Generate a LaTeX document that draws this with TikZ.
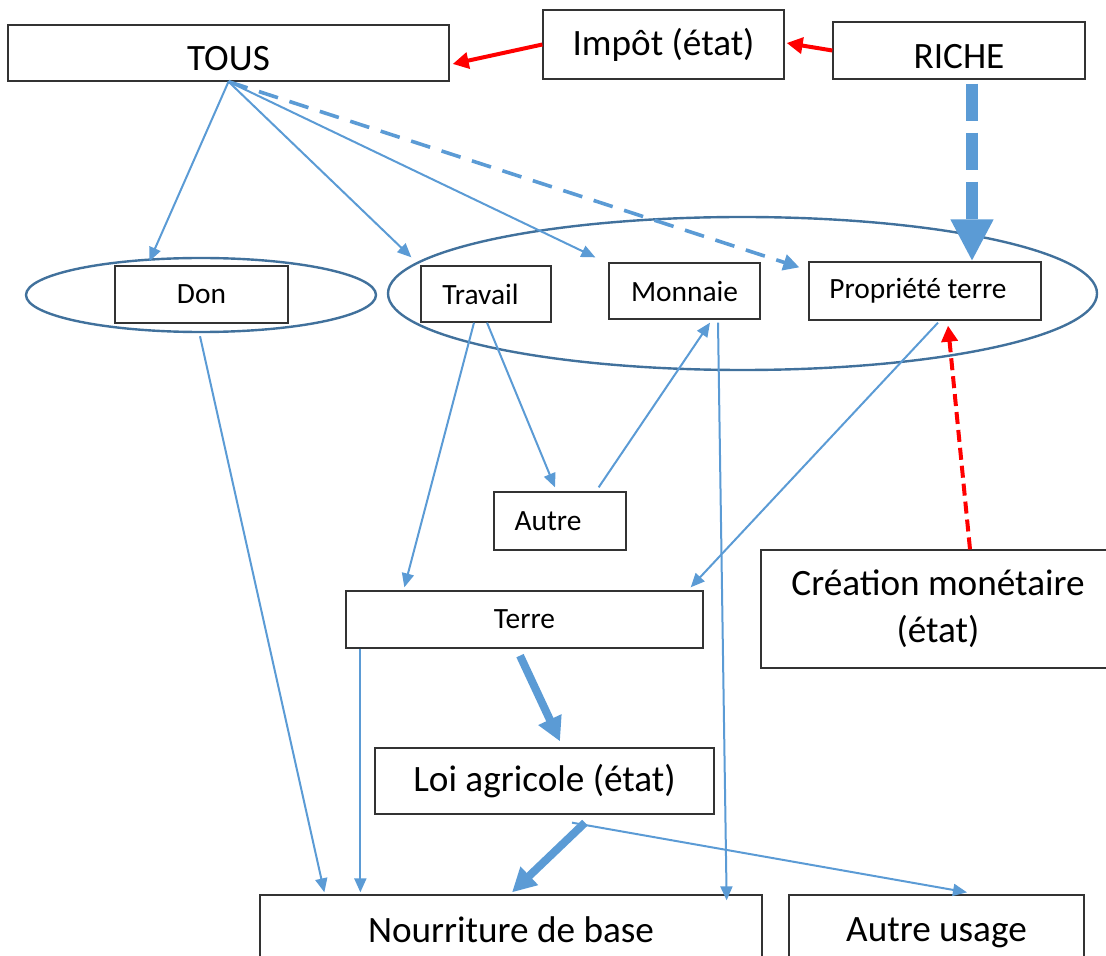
\documentclass[tikz,border=0pt]{standalone}
\usepackage{fontspec}
\setmainfont{Carlito}
\usetikzlibrary{arrows.meta,shapes.geometric,calc}

\definecolor{flowblue}{HTML}{5B9BD5}
\definecolor{ringblue}{HTML}{41719C}
\definecolor{taxred}{HTML}{FF0000}

\begin{document}
\begin{tikzpicture}[x=0.5pt,y=-0.5pt,
        box node/.style={rectangle,draw=black!80,line width=0.65pt,fill=white,inner sep=0pt},
        big node/.style={box node,font=\fontsize{18.6}{23.5}\selectfont,align=center},
        small node/.style={box node,font=\fontsize{14.7}{17}\selectfont},
        low text/.style={text height=18pt,text depth=0pt},
        ring/.style={ellipse,draw=ringblue,line width=1.2pt,inner sep=0pt},
        flow/.style={draw=flowblue,line width=1pt,-{Triangle[width=6pt,length=7pt]}},
        dashed flow/.style={draw=flowblue,line width=1.8pt,dash pattern=on 10pt off 6pt,-{Triangle[width=8pt,length=8pt]}},
        heavy flow/.style={draw=flowblue,line width=4pt,-{Triangle[width=12pt,length=12pt]}},
        rich flow/.style={draw=flowblue,line width=6pt,dash pattern=on 18.5pt off 6pt,-{Triangle[width=20pt,length=21pt]}},
        tax flow/.style={draw=taxred,line width=2pt,-{Triangle[width=8pt,length=8pt]}},
        money flow/.style={draw=taxred,line width=2pt,dash pattern=on 6pt off 3pt,-{Triangle[width=8pt,length=8pt]}}]
        \useasboundingbox (0,0) rectangle (1106,956);
        \clip (0,0) rectangle (1106,956);

        % groupes
        \node[ring, minimum width=175pt, minimum height=37pt] at (201, 295) (elDon) {};
        \node[ring, minimum width=354.5pt, minimum height=76.5pt] at (742.5, 293.5) (elMain) {};

        % boites
        \node[big node, low text, minimum width=220.5pt, minimum height=28pt] at (228.5, 53) (tous) {TOUS};
        \node[big node, minimum width=120.5pt, minimum height=34.5pt] at (663.5, 44.5) (impot) {Impôt (état)};
        \node[big node, low text, minimum width=126pt, minimum height=28.5pt] at (959, 50.5) (riche) {RICHE};
        \node[small node, minimum width=86.5pt, minimum height=28.5pt] at (201.5, 294.5) (don) {Don};
        \node[small node, minimum width=65pt, minimum height=28pt] at (486, 294) (travail) {Travail\hspace*{5.5pt}};
        \node[small node, minimum width=75.5pt, minimum height=28pt] at (684.5, 291) (monnaie) {Monnaie};
        \node[small node, minimum width=116pt, minimum height=29pt] at (925, 291) (propriete) {Propriété terre\hspace*{7pt}};
        \node[small node, minimum width=66pt, minimum height=29pt] at (560, 521) (autre) {Autre\hspace*{12pt}};
        \node[small node, minimum width=178.5pt, minimum height=28.5pt] at (524.5, 619.5) (terre) {Terre};
        \node[big node, minimum width=177pt, minimum height=59pt] at (938, 609) (creation) {Création monétaire\\(état)};
        \node[big node, minimum width=169.5pt, minimum height=33pt] at (544.5, 781) (loi) {Loi agricole (état)};
        \node[big node, minimum width=251pt, minimum height=35pt] at (511, 930) (nourriture) {Nourriture de base};
        \node[big node, text depth=0pt, minimum width=147.5pt, minimum height=35pt] at (936.5, 930) (autreUsage) {Autre usage};

        % fleches
        \path
            (impot.west) edge[tax flow] ($(tous.east)+(3,11)$)
            (riche.west) edge[tax flow] ($(impot.east)+(2,-1.5)$)
            ($(riche.south)+(13,4)$) edge[rich flow] ($(propriete.north)+(47,0)$)
            (tous.south) edge[flow] ($(don.north west)+(35,-4)$)
            (tous.south) edge[flow] ($(travail.north west)+(-9,-8)$)
            (tous.south) edge[flow] ($(monnaie.north west)+(-13,-5)$)
            (tous.south) edge[dashed flow] ($(propriete.north west)+(-9,6)$)
            ($(elDon.south)+(-1,3)$) edge[flow] ($(nourriture.north west)+(65,-2)$)
            ($(travail.south)+(-12,0)$) edge[flow] ($(terre.north west)+(59,-3)$)
            ($(travail.south)+(1,0)$) edge[flow] ($(autre.north)+(-5,-4)$)
            ($(autre.north east)+(-28,-4)$) edge[flow] ($(monnaie.south)+(25.5,3)$)
            ($(monnaie.south)+(33.5,3)$) edge[flow] ($(nourriture.north east)+(-36,6)$)
            ($(propriete.south)+(13,2)$) edge[flow] ($(terre.north east)+(-13,-3)$)
            ($(creation.north)+(32,0)$) edge[money flow] ($(propriete.south)+(23,5)$)
            ($(terre.south west)+(15,0)$) edge[flow] ($(nourriture.north west)+(101,-2)$)
            ($(terre.south)+(-4.5,7)$) edge[heavy flow] ($(loi.north)+(15.5,-6)$)
            ($(loi.south)+(40.5,8)$) edge[heavy flow] ($(nourriture.north)+(1,-2)$)
            ($(loi.south)+(27.5,8)$) edge[flow] ($(autreUsage.north)+(30.5,-2)$)
            ;
\end{tikzpicture}
\end{document}
